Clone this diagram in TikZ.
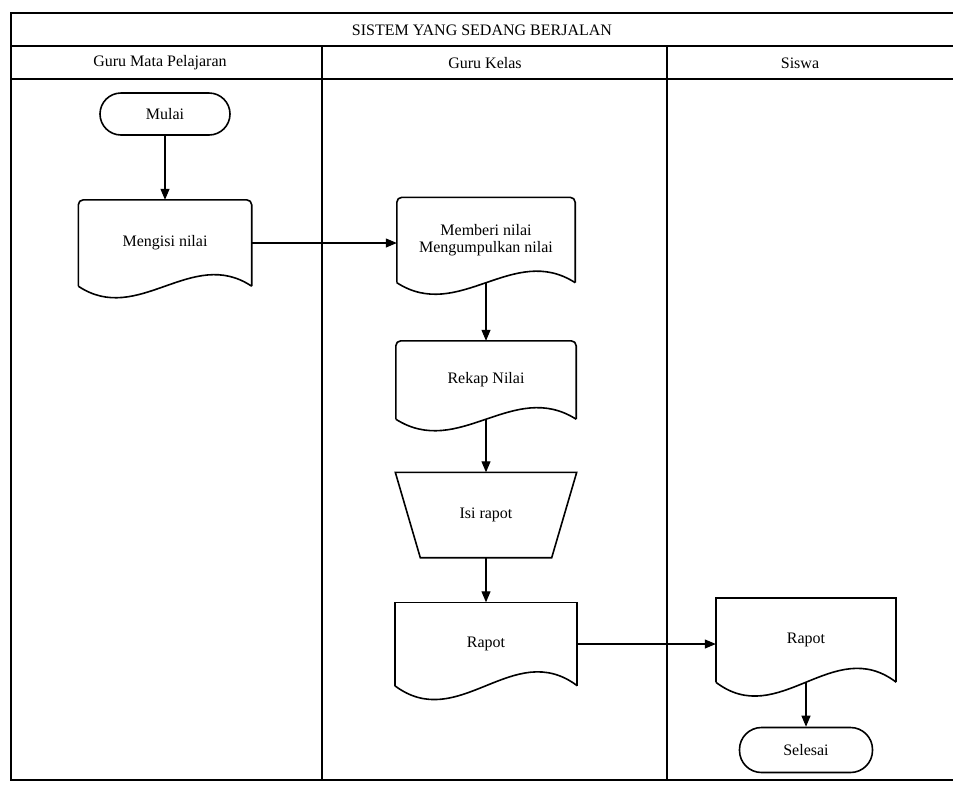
\documentclass[tikz,border=0pt]{standalone}
\usepackage{fontspec}
\setmainfont{Liberation Serif}
\usetikzlibrary{shapes,arrows.meta,positioning,calc}

\tikzset{
    frame/.style={line width=1.1pt},
    outline/.style={line width=1.6pt},
    flow/.style={-{Triangle[length=11pt,width=9pt]}, line width=1.1pt},
    txt/.style={font=\fontsize{16}{16.5}\selectfont, align=center, inner sep=0pt},
    term/.style={txt, draw, line width=1.6pt, rounded corners=#1},
    box/.style={txt, minimum width=#1},
}

% document symbol: node, corner radius, control offset, wave depth
\newcommand{\docshape}[4]{%
    \draw[outline, rounded corners=#2] (#1.south east) -- (#1.north east) -- (#1.north west) -- (#1.south west);
    \draw[outline] (#1.south west) .. controls +(#3,#4) and +(-#3,-#4) .. (#1.south east);
}

\begin{document}
\begin{tikzpicture}[x=1pt,y=-1pt]
    \useasboundingbox (0,0) rectangle (953,785);

    % Swimlanes
    \draw[frame] (953,13) -- (11,13) -- (11,780) -- (953,780);
    \draw[frame] (11,46) -- (953,46);
    \draw[frame] (11,79) -- (953,79);
    \foreach \x in {322,667} {
        \draw[frame] (\x,46) -- (\x,780);
    }
    \node[txt] (title) at (482,30) {SISTEM YANG SEDANG BERJALAN};
    \foreach \x/\name/\label in {160/guru/Guru Mata Pelajaran, 485/kelas/Guru Kelas, 800/siswa/Siswa} {
        \node[txt] (h\name) at (\x,63) {\label};
    }

    % Guru Mata Pelajaran
    \node[term=21pt, minimum width=130pt, minimum height=42pt] (mulai) at (165,114) {Mulai};
    \node[box=173pt, minimum height=86pt] (mengisi) at (165,243) {Mengisi nilai};
    \docshape{mengisi}{5pt}{60}{40}

    % Guru Kelas
    \node[box=178pt, minimum height=85pt] (memberi) at (486,240) {Memberi nilai\\Mengumpulkan nilai};
    \docshape{memberi}{5pt}{62}{40}
    \node[box=180pt, minimum height=78pt] (rekap) at (486,380) {Rekap Nilai};
    \docshape{rekap}{5pt}{63}{40}
    \node[box=181pt, minimum height=85pt] (isi) at (486,515) {Isi rapot};
    \draw[outline] (isi.north west) -- (isi.north east) -- ($(isi.south east)+(-25,0)$)
        -- ($(isi.south west)+(25,0)$) -- cycle;
    \node[box=182pt, minimum height=83pt] (rapot) at (486,644) {Rapot};
    \docshape{rapot}{0pt}{64}{48}

    % Siswa
    \node[box=180pt, minimum height=84pt] (rapotsiswa) at (806,640) {Rapot};
    \docshape{rapotsiswa}{0pt}{63}{48}
    \node[term=22pt, minimum width=133pt, minimum height=45pt] (selesai) at (806,750) {Selesai};

    % Arrows
    \draw[flow] (mulai) -- (mengisi);
    \draw[flow] (mengisi.east) -- (mengisi.east -| memberi.west);
    \draw[flow] (memberi.south) -- (rekap.north);
    \draw[flow] (rekap.south) -- (isi.north);
    \draw[flow] (isi.south) -- (rapot.north);
    \draw[flow] (rapot.east) -- (rapot.east -| rapotsiswa.west);
    \draw[flow] (rapotsiswa.south) -- (selesai.north);
\end{tikzpicture}
\end{document}
